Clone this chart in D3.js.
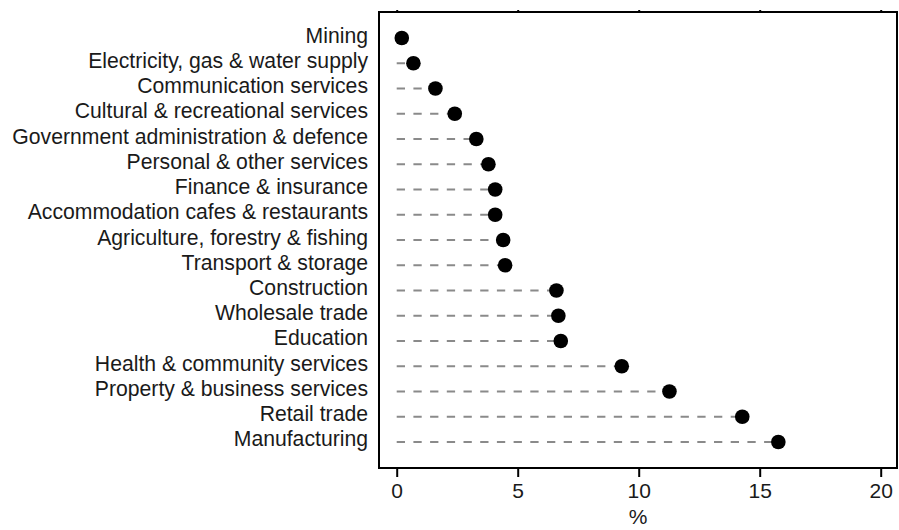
<!DOCTYPE html>
<html>
<head>
<meta charset="utf-8">
<script src="https://cdn.jsdelivr.net/npm/d3@7"></script>
<style>
  html, body { margin: 0; padding: 0; background: #fff; }
  svg { display: block; }
  text { font-family: "Liberation Sans", Arial, sans-serif; }
</style>
</head>
<body>
<svg id="chart" width="899" height="530"></svg>
<script>
const industries = [
  "Mining",
  "Electricity, gas & water supply",
  "Communication services",
  "Cultural & recreational services",
  "Government administration & defence",
  "Personal & other services",
  "Finance & insurance",
  "Accommodation cafes & restaurants",
  "Agriculture, forestry & fishing",
  "Transport & storage",
  "Construction",
  "Wholesale trade",
  "Education",
  "Health & community services",
  "Property & business services",
  "Retail trade",
  "Manufacturing"
];
const shares = [0.21, 0.69, 1.60, 2.40, 3.29, 3.79, 4.07, 4.07, 4.40, 4.48, 6.60, 6.68, 6.78, 9.30, 11.27, 14.28, 15.77];
const xTicks = [0, 5, 10, 15, 20];
const xTitle = "%";

const svg = d3.select("#chart");
const frame = { left: 379, right: 897, top: 12, bottom: 468 };

const x = d3.scaleLinear().domain([0, 20]).range([396.7, 880.7]);
const y = d3.scalePoint().domain(industries).range([frame.top, frame.bottom]).padding(1.03);

const data = industries.map((d, i) => ({ name: d, value: shares[i] }));

// dashed leader lines
svg.append("g").selectAll("line").data(data).join("line")
  .attr("x1", x(0))
  .attr("x2", d => x(d.value))
  .attr("y1", d => y(d.name))
  .attr("y2", d => y(d.name))
  .attr("stroke", "#8a8a8a")
  .attr("stroke-width", 2)
  .attr("stroke-dasharray", "8.3,8.4");

// dots
svg.append("g").selectAll("circle").data(data).join("circle")
  .attr("cx", d => x(d.value))
  .attr("cy", d => y(d.name))
  .attr("r", 7.3)
  .attr("fill", "#000");

// frame
svg.append("rect")
  .attr("x", frame.left).attr("y", frame.top)
  .attr("width", frame.right - frame.left)
  .attr("height", frame.bottom - frame.top)
  .attr("fill", "none").attr("stroke", "#000").attr("stroke-width", 2);

// bottom axis
const xAxis = svg.append("g")
  .attr("transform", `translate(0,${frame.bottom})`)
  .call(d3.axisBottom(x).tickValues(xTicks).tickSize(9).tickPadding(6).tickFormat(d3.format("d")));
xAxis.select(".domain").remove();
xAxis.selectAll(".tick line").attr("stroke", "#000").attr("stroke-width", 2);
xAxis.selectAll(".tick text")
  .attr("fill", "#1a1a1a")
  .style("font-family", "'Liberation Sans', Arial, sans-serif")
  .style("font-size", "21px");

// top ticks (mirrored, short)
const topAxis = svg.append("g")
  .attr("transform", `translate(0,${frame.top})`)
  .call(d3.axisTop(x).tickValues(xTicks).tickSize(2).tickFormat(""));
topAxis.select(".domain").remove();
topAxis.selectAll(".tick line").attr("stroke", "#000").attr("stroke-width", 2);

// y labels
svg.append("g").selectAll("text").data(data).join("text")
  .attr("x", 368)
  .attr("y", d => y(d.name) + 4.5)
  .attr("text-anchor", "end")
  .attr("fill", "#1a1a1a")
  .style("font-size", "21.2px")
  .text(d => d.name);

// x title
svg.append("text")
  .attr("x", (frame.left + frame.right) / 2)
  .attr("y", 524)
  .attr("text-anchor", "middle")
  .attr("fill", "#1a1a1a")
  .style("font-size", "21px")
  .text(xTitle);
</script>
</body>
</html>
